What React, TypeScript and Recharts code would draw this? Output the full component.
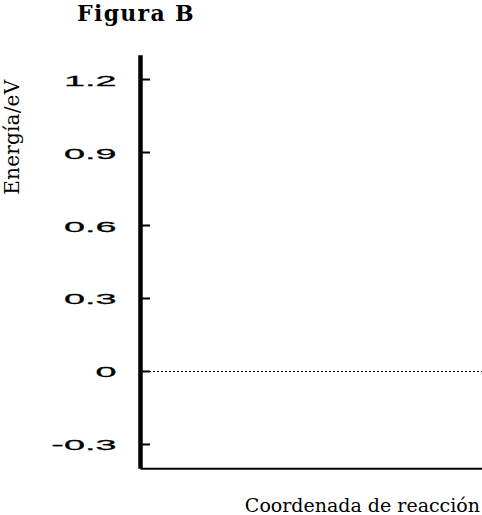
import React from "react";
import { LineChart, XAxis, YAxis, ReferenceLine, Label } from "recharts";

const reactionCoord = [0, 1];
const energyTicks = [-0.3, 0, 0.3, 0.6, 0.9, 1.2];
const energyTickLabels = ["-0.3", "0", "0.3", "0.6", "0.9", "1.2"];
const energyDomain = [-0.4, 1.3];
const referenceEnergy = 0;
const titleText = "Figura B";
const xLabelText = "Coordenada de reacción";
const yLabelText = "Energía/eV";

const data = reactionCoord.map((x) => ({ x }));

const EnergyTick = (props: any) => {
  const { x, y, payload } = props;
  const idx = energyTicks.indexOf(payload.value);
  const label = idx >= 0 ? energyTickLabels[idx] : String(payload.value);
  return (
    <g>
      <line x1={x} x2={x + 9.5} y1={y} y2={y} stroke="#000" strokeWidth={2} />
      <g transform={`translate(${x - 24},${y})`}>
        <text
          transform="scale(2.7,1)"
          textAnchor="end"
          dy={6}
          fontFamily="'Liberation Sans', Arial, sans-serif"
          fontSize={14}
          stroke="#000"
          strokeWidth={0.25}
          fill="#000"
        >
          {label}
        </text>
      </g>
    </g>
  );
};

const XLabel = (props: any) => {
  const vb = props.viewBox || {};
  return (
    <text
      x={vb.x + vb.width - 2}
      y={vb.y + vb.height - 3}
      textAnchor="end"
      fontFamily="'DejaVu Serif', serif"
      fontSize={19}
      fill="#000"
    >
      {xLabelText}
    </text>
  );
};

const YLabel = (props: any) => {
  const vb = props.viewBox || {};
  const cx = vb.x + 19;
  const cy = vb.y + 82;
  return (
    <text
      x={cx}
      y={cy}
      transform={`rotate(-90,${cx},${cy})`}
      textAnchor="middle"
      fontFamily="'DejaVu Serif', serif"
      fontSize={20}
      letterSpacing={0.2}
      fill="#000"
    >
      {yLabelText}
    </text>
  );
};

export default function App() {
  return (
    <div
      style={{
        position: "absolute",
        left: 0,
        top: 0,
        width: 482,
        height: 515,
        background: "#fff",
      }}
    >
      <div
        style={{
          position: "absolute",
          left: 0,
          top: 0,
          width: 272,
          textAlign: "center",
          fontFamily: "'DejaVu Serif', serif",
          fontWeight: "bold",
          fontSize: 22,
          lineHeight: "26px",
          letterSpacing: 1.3,
          color: "#000",
        }}
      >
        {titleText}
      </div>
      <LineChart
        width={482}
        height={515}
        data={data}
        margin={{ top: 55.2, right: 0, bottom: 0, left: 0 }}
      >
        <XAxis
          dataKey="x"
          type="number"
          domain={[0, 1]}
          height={46.2}
          tick={false}
          tickLine={false}
          axisLine={{ stroke: "#000", strokeWidth: 2 }}
        >
          <Label content={<XLabel />} />
        </XAxis>
        <YAxis
          type="number"
          domain={energyDomain}
          ticks={energyTicks}
          interval={0}
          width={140.5}
          tickSize={0}
          tickMargin={0}
          tickLine={false}
          tick={<EnergyTick />}
          axisLine={{ stroke: "#000", strokeWidth: 4.5 }}
          allowDataOverflow
        >
          <Label content={<YLabel />} />
        </YAxis>
        <ReferenceLine
          y={referenceEnergy}
          stroke="#000"
          strokeWidth={1}
          strokeDasharray="2 2"
          shapeRendering="crispEdges"
          ifOverflow="extendDomain"
        />
      </LineChart>
    </div>
  );
}
